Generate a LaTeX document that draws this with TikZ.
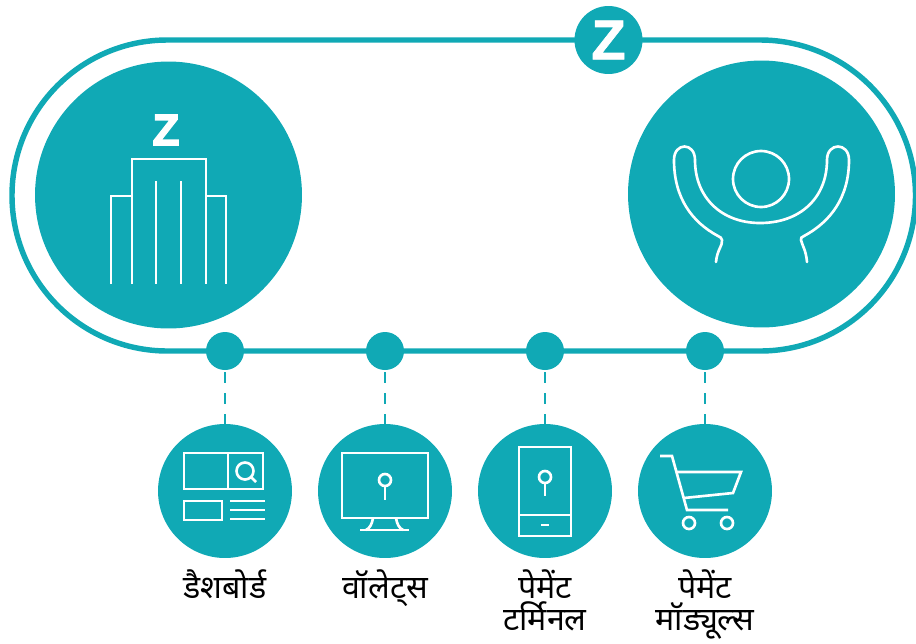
\documentclass[tikz,border=0pt]{standalone}
\usepackage{fontspec}
\setmainfont[Script=Devanagari]{Noto Sans}
\newfontfamily\logofont[FakeBold=1.2]{Liberation Sans}
\newfontfamily\logofontHeavy[FakeBold=3]{Liberation Sans}
\usetikzlibrary{positioning}
\definecolor{tealz}{HTML}{10A9B5}
\tikzset {
    style Track/.style={
        draw=tealz,
        line width=3.1pt,
        rounded corners=3.11cm,
    },
    style Big/.style={
        circle,
        fill=tealz,
        inner sep=0pt,
        minimum size=5.34cm,
    },
    style Small/.style={
        circle,
        fill=tealz,
        inner sep=0pt,
        minimum size=2.68cm,
    },
    style Dot/.style={
        circle,
        fill=tealz,
        inner sep=0pt,
        minimum size=.76cm,
    },
    style Logo/.style={
        circle,
        fill=tealz,
        text=white,
        inner sep=0pt,
        minimum size=1.36cm,
        font=\logofont\bfseries\fontsize{32}{32}\selectfont,
    },
    style Label/.style={
        align=center,
        text=black,
        font=\fontsize{18.3}{20}\selectfont,
    },
    style Link/.style={
        draw=tealz,
        line width=1.6pt,
        dash pattern=on 6pt off 6pt,
        dash phase=11pt,
    },
    style Icon/.style={
        draw=white,
        line width=1.5pt,
    },
}
\begin{document}
\begin{tikzpicture}[x=0.02cm, y=-0.02cm]
    \useasboundingbox (0,0) rectangle (916,643);

    \draw[style Track] (12,40) rectangle (915.5,351);

    \node[style Logo] at (608.5,40) (logo) {Z};
    \node[style Big] at (168.5,195) (company) {};
    \node[style Big] at (761.5,194) (customer) {};

    \node[style Dot] at (225,351) (dotA) {};
    \node[style Dot] at (385,351) (dotB) {};
    \node[style Dot] at (545,351) (dotC) {};
    \node[style Dot] at (705,351) (dotD) {};

    \node[style Small] at (225,491) (dashboard) {};
    \node[style Small] at (385,491) (wallets) {};
    \node[style Small] at (545,491) (terminal) {};
    \node[style Small] at (705,491) (modules) {};

    \draw[style Link] (dotA) -- (dashboard);
    \draw[style Link] (dotB) -- (wallets);
    \draw[style Link] (dotC) -- (terminal);
    \draw[style Link] (dotD) -- (modules);

    \node[style Label, anchor=base] at (225,598) (dashboardText) {डैशबोर्ड};
    \node[style Label, anchor=base] at (385,598) (walletsText) {वॉलेट्स};
    \node[style Label, anchor=base] at (545,598) (terminalTextA) {पेमेंट};
    \node[style Label, anchor=base] at (545,630) (terminalTextB) {टर्मिनल};
    \node[style Label, anchor=base] at (705,598) (modulesTextA) {पेमेंट};
    \node[style Label, anchor=base] at (705,630) (modulesTextB) {मॉड्यूल्स};

    % building
    \node[text=white, inner sep=0pt, font=\logofontHeavy\bfseries\fontsize{25}{25}\selectfont] at (166,130) (logoSmall) {Z};
    \draw[style Icon] (111,284) -- (111,196) -- (132,196);
    \draw[style Icon] (132,284) -- (132,159) -- (206,159) -- (206,284);
    \draw[style Icon] (206,196) -- (226,196) -- (226,284);
    \draw[style Icon] (156,181) -- (156,284);
    \draw[style Icon] (181,181) -- (181,284);

    % person
    \draw[style Icon] (761,179) circle (28);
    \draw[style Icon, line cap=round] (716,262) .. controls (717,250) and (723,245) .. (722,240)
        .. controls (722,238) and (720,237) .. (718,236)
        .. controls (692,222) and (674,198) .. (674,160)
        .. controls (674,142) and (695,142) .. (695,160)
        .. controls (695,198) and (722,223) .. (760,223)
        .. controls (800,223) and (827,198) .. (827,160)
        .. controls (827,142) and (849,142) .. (849,160)
        .. controls (849,198) and (830,222) .. (804,236)
        .. controls (802,237) and (800,238) .. (801,240)
        .. controls (802,245) and (806,250) .. (807,262);

    % dashboard icon
    \draw[style Icon] (184,453) rectangle (263,489);
    \draw[style Icon] (228,453) -- (228,489);
    \draw[style Icon] (245,471) circle (8.5);
    \draw[style Icon] (251,477) -- (256,482);
    \draw[style Icon] (184,501) rectangle (222,520);
    \draw[style Icon] (230,501) -- (265,501);
    \draw[style Icon] (230,510) -- (265,510);
    \draw[style Icon] (230,519) -- (265,519);

    % wallets icon
    \draw[style Icon] (342,453) rectangle (428,518);
    \draw[style Icon] (385,486) -- (385,500);
    \draw[style Icon] (385,480) circle (6);
    \draw[style Icon] (373,518) .. controls (372,524) and (370,528) .. (366,530);
    \draw[style Icon] (396,518) .. controls (397,524) and (399,528) .. (403,530);
    \draw[style Icon] (360,530) -- (409,530);

    % terminal icon
    \draw[style Icon] (519,447) rectangle (571,536);
    \draw[style Icon] (519,515) -- (571,515);
    \draw[style Icon] (541,525) -- (549,525);
    \draw[style Icon] (545,483) -- (545,496);
    \draw[style Icon] (545,477) circle (6);

    % cart icon
    \draw[style Icon] (660,456) -- (672,456) -- (687,510) -- (728,510);
    \draw[style Icon] (676,472) -- (741,472) -- (733,493) -- (684,498);
    \draw[style Icon] (689,523) circle (6);
    \draw[style Icon] (727,523) circle (6);
\end{tikzpicture}
\end{document}
